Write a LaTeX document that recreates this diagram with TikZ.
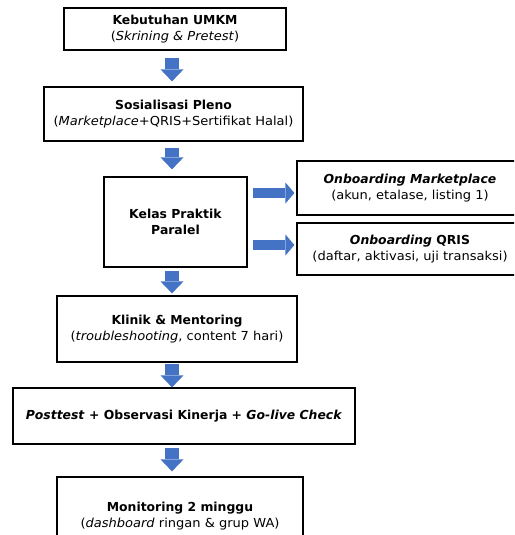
\documentclass[tikz,border=0pt]{standalone}
\usepackage{fontspec}
\setmainfont{DejaVu Sans}[UprightFeatures={FakeStretch=1.05}, ItalicFeatures={FakeStretch=1.05}]
\usetikzlibrary{arrows.meta}
\definecolor{arrowblue}{HTML}{4472C4}
\begin{document}
\begin{tikzpicture}[x=1pt, y=-1pt, box/.style={draw, line width=1.2pt, align=center, inner sep=1pt, font=\fontsize{12.4}{16.5}\selectfont}, darrow/.style={arrowblue, line width=14pt, -{Triangle[width=23pt,length=12pt,line width=0pt]}}, harrow/.style={arrowblue, line width=10.5pt, -{Triangle[width=21pt,length=9pt,line width=0pt]}}]%
\useasboundingbox (0,0) rectangle (514,535);
\clip (0,0) rectangle (514,535);
\begin{scope}
\node[box, minimum width=222pt, minimum height=42pt] (keb) at (175,29) {\textbf{Kebutuhan UMKM}\\(\textit{Skrining \& Pretest})};
\node[box, minimum width=259pt, minimum height=54pt] (sos) at (173.5,114) {\textbf{Sosialisasi Pleno}\\(\textit{Marketplace}+QRIS+Sertifikat Halal)};
\node[box, minimum width=143pt, minimum height=90pt] (kelas) at (175.5,222) {\textbf{Kelas Praktik}\\\textbf{Paralel}};
\node[box, minimum width=226pt, minimum height=54pt] (mp) at (410,188) {\textbf{\textit{Onboarding Marketplace}}\\(akun, etalase, listing 1)};
\node[box, minimum width=226pt, minimum height=52pt] (qris) at (410,249) {\textbf{\textit{Onboarding} QRIS}\\(daftar, aktivasi, uji transaksi)};
\node[box, minimum width=240pt, minimum height=66pt] (klinik) at (177,329) {\textbf{Klinik \& Mentoring}\\(\textit{troubleshooting}, content 7 hari)};
\node[box, minimum width=342pt, minimum height=56pt] (post) at (184,416) {\textbf{\textit{Posttest} + Observasi Kinerja + \textit{Go-live Check}}};
\node[box, minimum width=246pt, minimum height=78pt] (mon) at (180,516) {\textbf{Monitoring 2 minggu}\\(\textit{dashboard} ringan \& grup WA)};
\coordinate (ax) at (172,0);
\end{scope}
\begin{scope}
\draw[darrow, shorten <=7pt, shorten >=5pt] (keb.south -| ax) -- (sos.north -| ax);
\draw[darrow, shorten <=6pt, shorten >=7pt] (sos.south -| ax) -- (kelas.north -| ax);
\draw[darrow, shorten <=3pt, shorten >=2pt] (kelas.south -| ax) -- (klinik.north -| ax);
\draw[darrow, shorten <=1pt, shorten >=0pt] (klinik.south -| ax) -- (post.north -| ax);
\draw[darrow, shorten <=3pt, shorten >=5pt] (post.south -| ax) -- (mon.north -| ax);
\draw[harrow, shorten <=5pt, shorten >=2pt] ([yshift=-5pt]kelas.east |- mp.west) -- ([yshift=-5pt]mp.west);
\draw[harrow, shorten <=5pt, shorten >=2pt] ([yshift=4pt]kelas.east |- qris.west) -- ([yshift=4pt]qris.west);
\end{scope}
\end{tikzpicture}
\end{document}
